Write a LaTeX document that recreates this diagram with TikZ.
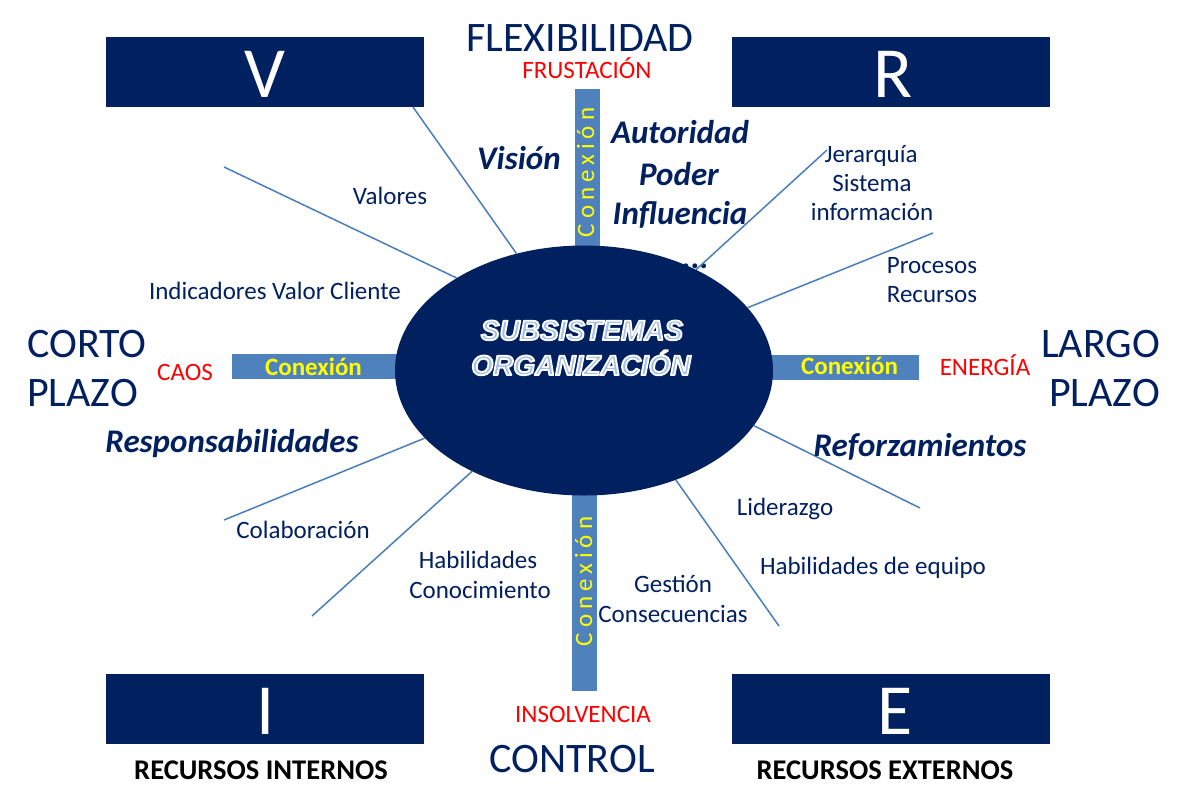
\documentclass[tikz,border=0pt]{standalone}
\usepackage{fontspec}
\setmainfont{Carlito}
\newfontfamily\arialf{Liberation Sans}
\newfontfamily\spacedf[LetterSpace=20]{Carlito}
\usetikzlibrary{shapes.geometric}
\definecolor{navy}{RGB}{0,32,96}
\definecolor{barcol}{RGB}{79,129,189}
\definecolor{linecol}{RGB}{74,126,187}
\definecolor{yel}{RGB}{255,255,0}
\definecolor{redc}{RGB}{255,0,0}
\definecolor{glowfill}{RGB}{165,192,235}
\newcommand\glowtxt[1]{{\color{glowfill}\special{pdf:literal direct 1 1 1 RG 1.8 w 1 j 2 Tr}#1\special{pdf:literal direct 0 Tr}}}
\tikzset{
 lbl/.style={font=\fontsize{25}{30}\selectfont, text=navy, anchor=base, inner sep=0pt},
 bigl/.style={font=\fontsize{42}{50}\selectfont, text=navy, anchor=base, inner sep=0pt},
 bil/.style={font=\bfseries\itshape\fontsize{33}{40}\selectfont, text=navy, anchor=base, inner sep=0pt},
 redl/.style={font=\fontsize{25}{30}\selectfont, text=redc, anchor=base, inner sep=0pt},
 resl/.style={font=\bfseries\fontsize{28.5}{32}\selectfont, text=black, anchor=base, inner sep=0pt},
 letterbox/.style={fill=navy, draw=none, inner sep=0pt, minimum width=318pt, minimum height=70pt},
 letterl/.style={font=\fontsize{72}{80}\selectfont, text=white, anchor=base, inner sep=0pt},
 bar/.style={fill=barcol, draw=none, inner sep=0pt},
 hconn/.style={font=\bfseries\fontsize{25}{30}\selectfont, text=yel, anchor=base, inner sep=0pt},
 vconn/.style={font=\spacedf\fontsize{25}{30}\selectfont, text=yel, anchor=base, inner sep=0pt, rotate=90},
 conn/.style={draw=linecol, line width=1.5pt},
 orgtxt/.style={font=\arialf\bfseries\itshape\fontsize{28}{34}\selectfont, anchor=base, inner sep=0pt}
}
\begin{document}
\begin{tikzpicture}[x=1pt,y=-1pt]
\useasboundingbox[fill=white] (0,0) rectangle (1188,807);
% letter boxes
\node[letterbox] (boxV) at (265,72) {};
\node[letterbox] (boxR) at (891,72) {};
\node[letterbox] (boxI) at (265,708.5) {};
\node[letterbox] (boxE) at (891,708.5) {};
\node[letterl] (lV) at (265,97.5) {V};
\node[letterl] (lR) at (893,97.5) {R};
\node[letterl] (lI) at (266,734) {I};
\node[letterl] (lE) at (895,734) {E};
% connection bars
\node[bar, minimum width=25pt, minimum height=200pt, anchor=north] (barT) at (587.5,89) {};
\node[bar, minimum width=25pt, minimum height=240pt, anchor=south] (barB) at (584.5,691) {};
\node[bar, minimum width=190pt, minimum height=25pt, anchor=west] (barL) at (232,366.5) {};
\node[bar, minimum width=190pt, minimum height=25pt, anchor=east] (barR) at (919,367.5) {};
% partly hidden dots
\node[bil] (dots) at (691,268) {....};
% central ellipse
\node[ellipse, fill=navy, draw=none, inner sep=0pt, minimum width=378pt, minimum height=250pt] (org) at (584,370.5) {};
% connectors
\coordinate (c1) at (413,107);
\coordinate (c2) at (224,167);
\coordinate (c3) at (827,150);
\coordinate (c4) at (933,233);
\coordinate (c5) at (920,508);
\coordinate (c6) at (779,626);
\coordinate (c7) at (224,520);
\coordinate (c8) at (312,616);
\draw[conn] (c1) -- (org.120);
\draw[conn] (c2) -- (org.144.7);
\draw[conn] (c3) -- (org.42.2);
\draw[conn] (c4) -- (org.21.2);
\draw[conn] (c5) -- (org.-18.3);
\draw[conn] (c6) -- (org.-50.2);
\draw[conn] (c7) -- (org.203.3);
\draw[conn] (c8) -- (org.222.2);
% ellipse text
\node[orgtxt] (sub1) at (582,340) {\glowtxt{SUBSISTEMAS}};
\node[orgtxt] (sub2) at (581,375) {\glowtxt{ORGANIZACIÓN}};
% connection labels
\node[vconn] (ctT) at (594,172.5) {Conexión};
\node[vconn] (ctB) at (592,581.5) {Conexión};
\node[hconn] (ctL) at (313.5,375) {Conexión};
\node[hconn] (ctR) at (849.5,374) {Conexión};
% big words
\node[bigl] (flex) at (580,51) {FLEXIBILIDAD};
\node[bigl] (ctrl) at (572,772) {CONTROL};
\node[bigl, anchor=base west] (corto) at (27,357) {CORTO};
\node[bigl, anchor=base west] (plazoL) at (27,406) {PLAZO};
\node[bigl, anchor=base east] (largo) at (1160,357) {LARGO};
\node[bigl, anchor=base east] (plazoR) at (1160,406) {PLAZO};
% red words
\node[redl] (frus) at (587,78) {FRUSTACIÓN};
\node[redl] (caos) at (185,380) {CAOS};
\node[redl] (energ) at (985,375) {ENERGÍA};
\node[redl] (insolv) at (583,722) {INSOLVENCIA};
% bold italic
\node[bil] (vision) at (519,169) {Visión};
\node[bil] (autor) at (680,143) {Autoridad};
\node[bil] (poder) at (679,185) {Poder};
\node[bil] (influ) at (680,224) {Influencia};
\node[bil] (respo) at (232,452) {Responsabilidades};
\node[bil] (refor) at (920,456) {Reforzamientos};
% regular labels
\node[lbl] (valores) at (390,204) {Valores};
\node[lbl] (indic) at (275,299) {Indicadores Valor Cliente};
\node[lbl] (jer) at (871,162) {Jerarquía};
\node[lbl] (sist) at (872,191) {Sistema};
\node[lbl] (info) at (872,220) {información};
\node[lbl] (proc) at (932,273) {Procesos};
\node[lbl] (recu) at (932,302) {Recursos};
\node[lbl] (colab) at (303,538) {Colaboración};
\node[lbl] (lider) at (785,515) {Liderazgo};
\node[lbl] (habeq) at (873,574) {Habilidades de equipo};
\node[lbl] (habil) at (478,568) {Habilidades};
\node[lbl] (conoc) at (480,598) {Conocimiento};
\node[lbl] (gest) at (673,592) {Gestión};
\node[lbl] (conse) at (673,622) {Consecuencias};
% resources
\node[resl] (rint) at (261,779) {RECURSOS INTERNOS};
\node[resl] (rext) at (885,779) {RECURSOS EXTERNOS};
\end{tikzpicture}
\end{document}
